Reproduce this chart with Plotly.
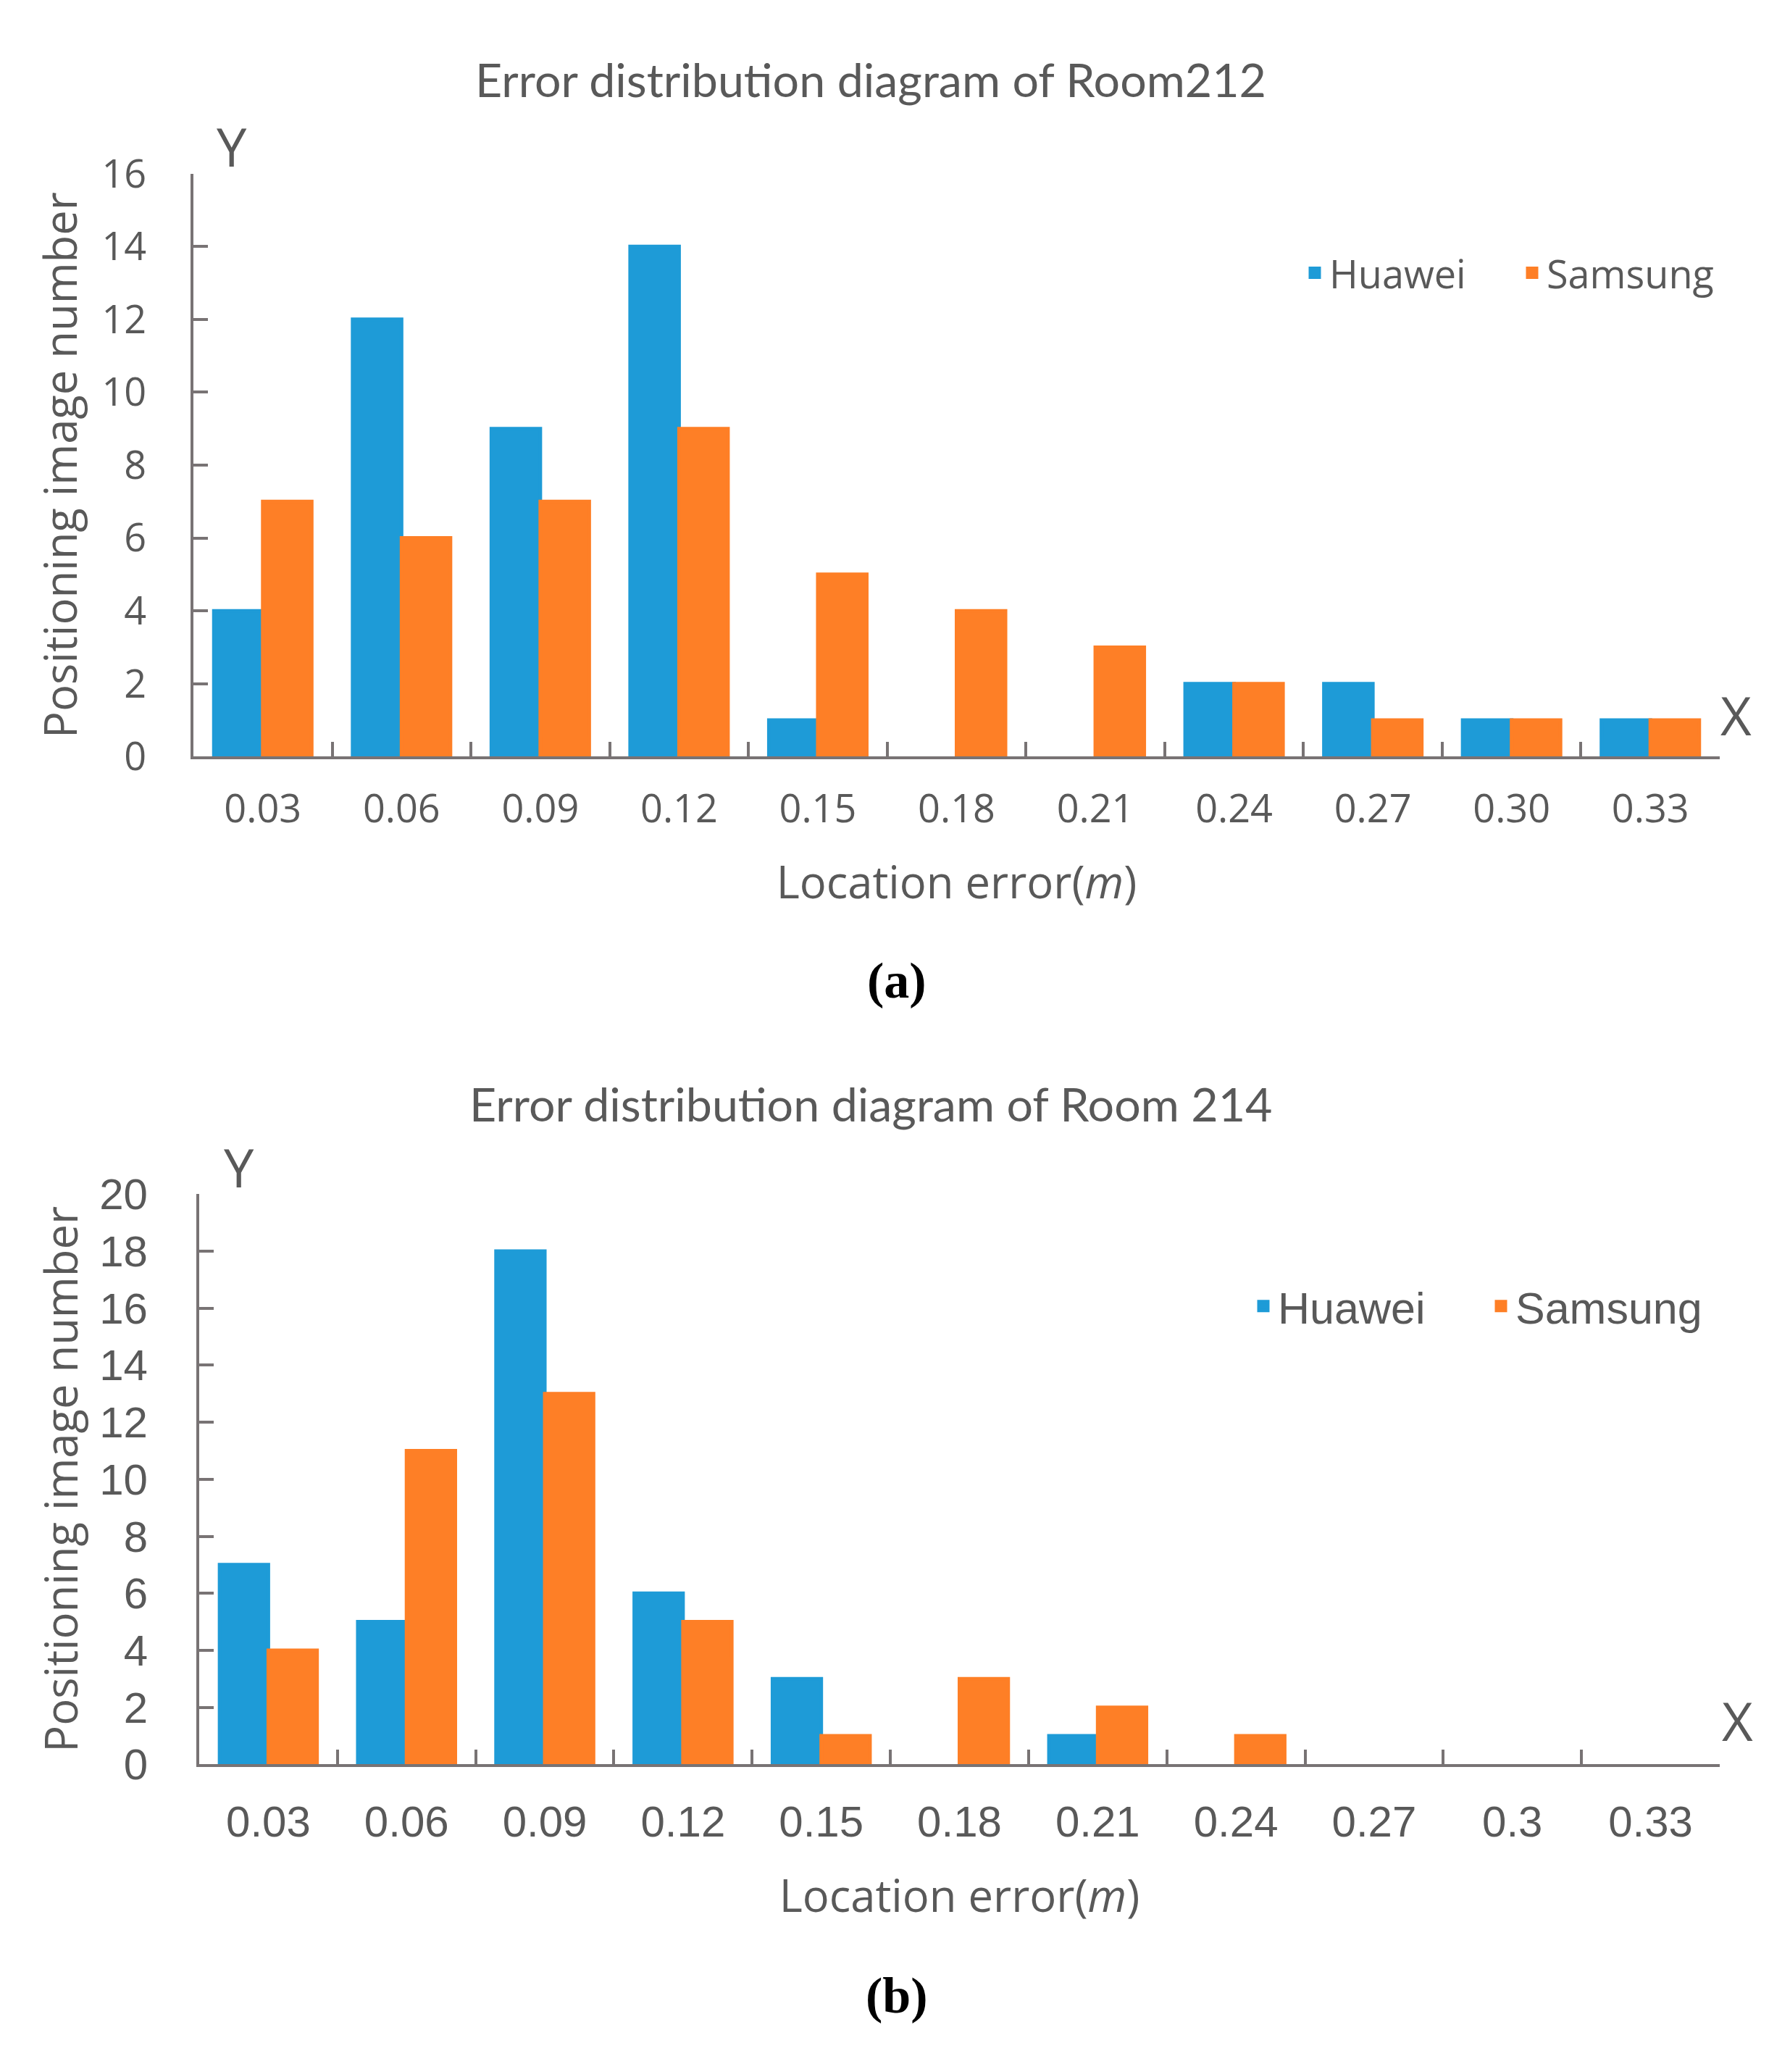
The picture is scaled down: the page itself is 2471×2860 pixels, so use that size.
import plotly.graph_objects as go

# datos
categorias_a = ["0.03", "0.06", "0.09", "0.12", "0.15", "0.18", "0.21", "0.24", "0.27", "0.30", "0.33"]
huawei_a = [4, 12, 9, 14, 1, 0, 0, 2, 2, 1, 1]
samsung_a = [7, 6, 7, 9, 5, 4, 3, 2, 1, 1, 1]

categorias_b = ["0.03", "0.06", "0.09", "0.12", "0.15", "0.18", "0.21", "0.24", "0.27", "0.3", "0.33"]
huawei_b = [7, 5, 18, 6, 3, 0, 1, 0, 0, 0, 0]
samsung_b = [4, 11, 13, 5, 1, 3, 2, 1, 0, 0, 0]

W, H = 2471, 2860
azul = "#1E9BD7"
naranja = "#FE7F26"
gris_texto = "#595959"
gris_eje = "#787374"


def px_x(p):
    return p / W


def px_y(p):
    return 1 - p / H


def borde(valores):
    # borde del mismo color (agranda el cuadrito de la leyenda), nada en barras de altura 0
    return [5 if v > 0 else 0 for v in valores]


fig = go.Figure()

fig.add_trace(go.Bar(x=categorias_a, y=huawei_a, name="Huawei",
                     marker=dict(color=azul, line=dict(color=azul, width=borde(huawei_a))),
                     xaxis="x", yaxis="y", legend="legend"))
fig.add_trace(go.Bar(x=categorias_a, y=samsung_a, name="Samsung",
                     marker=dict(color=naranja, line=dict(color=naranja, width=borde(samsung_a))),
                     xaxis="x", yaxis="y", legend="legend"))
fig.add_trace(go.Bar(x=categorias_b, y=huawei_b, name="Huawei",
                     marker=dict(color=azul, line=dict(color=azul, width=borde(huawei_b))),
                     xaxis="x2", yaxis="y2", legend="legend2"))
fig.add_trace(go.Bar(x=categorias_b, y=samsung_b, name="Samsung",
                     marker=dict(color=naranja, line=dict(color=naranja, width=borde(samsung_b))),
                     xaxis="x2", yaxis="y2", legend="legend2"))

fuente_a = dict(family="Open Sans", size=54, color=gris_texto)
fuente_b = dict(family="Liberation Sans, Arial", size=60, color=gris_texto)
fuente_titulo_eje = dict(family="Open Sans", size=61.5, color=gris_texto)

eje_x = dict(type="category", showline=True, linewidth=4, linecolor=gris_eje,
             ticks="inside", tickson="boundaries", ticklen=20, tickwidth=4, tickcolor=gris_eje,
             showgrid=False, zeroline=False)
eje_y = dict(showline=True, linewidth=4, linecolor=gris_eje,
             ticks="inside", ticklen=20, tickwidth=4, tickcolor=gris_eje,
             showgrid=False, zeroline=False, dtick=2)

fig.update_layout(
    width=W, height=H,
    margin=dict(l=0, r=0, t=0, b=0),
    paper_bgcolor="white", plot_bgcolor="white",
    barmode="group", bargap=0.295, bargroupgap=0,
    xaxis=dict(eje_x, domain=[px_x(267), px_x(2374)], anchor="y",
               tickfont=fuente_a, ticklabelstandoff=22,
               title=dict(text="Location error(<i>m</i>)", font=fuente_titulo_eje, standoff=48)),
    yaxis=dict(eje_y, domain=[px_y(1032), px_y(206)], anchor="x", range=[0, 16],
               tickfont=fuente_a, ticklabelstandoff=50,
               title=dict(text="Positioning image number", font=fuente_titulo_eje, standoff=15)),
    xaxis2=dict(eje_x, domain=[px_x(275), px_x(2374)], anchor="y2",
                tickfont=fuente_b, ticklabelstandoff=24,
                title=dict(text="Location error(<i>m</i>)", font=fuente_titulo_eje, standoff=50)),
    yaxis2=dict(eje_y, domain=[px_y(2460), px_y(1652)], anchor="x2", range=[0, 20],
                tickfont=fuente_b, ticklabelstandoff=55,
                title=dict(text="Positioning image number", font=fuente_titulo_eje, standoff=11)),
    legend=dict(orientation="h", x=px_x(1795), y=px_y(347), xanchor="left", yanchor="middle",
                font=dict(family="Open Sans", size=54, color=gris_texto),
                entrywidth=255, bgcolor="rgba(0,0,0,0)"),
    legend2=dict(orientation="h", x=px_x(1724), y=px_y(1811), xanchor="left", yanchor="middle",
                 font=dict(family="Liberation Sans, Arial", size=61, color=gris_texto),
                 entrywidth=283, bgcolor="rgba(0,0,0,0)"),
    showlegend=True,
)

titulo = dict(family="Lato", size=64.5, color=gris_texto)
letra = dict(family="Open Sans", size=74, color=gris_texto)
etiqueta = dict(family="Liberation Serif", size=70, color="black")

anotaciones = [
    ("Error distribution diagram of Room212", 1202, 72, titulo),
    ("Error distribution diagram of Room 214", 1202, 1523, titulo),
    ("Y", 320, 167, letra),
    ("X", 2396, 973, letra),
    ("Y", 330, 1613, letra),
    ("X", 2398, 2398, letra),
    ("<b>(a)</b>", 1238, 1349, etiqueta),
    ("<b>(b)</b>", 1238, 2788, etiqueta),
]
for texto, ax, ay, fuente in anotaciones:
    fig.add_annotation(text=texto, x=px_x(ax), y=px_y(ay), xref="paper", yref="paper",
                       xanchor="center", yanchor="middle", showarrow=False, font=fuente)

fig.write_html("out.html", config={"displayModeBar": False},
               post_script="document.body.style.margin='0';")
